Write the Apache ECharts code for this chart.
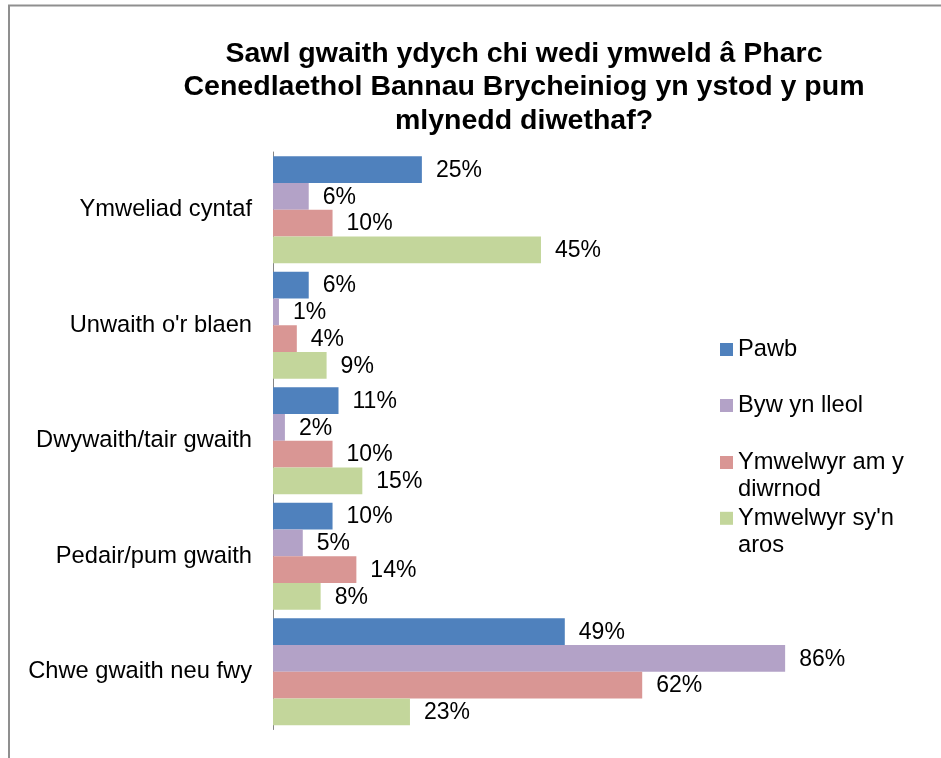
<!DOCTYPE html>
<html>
<head>
<meta charset="utf-8">
<script src="https://cdn.jsdelivr.net/npm/echarts@6/dist/echarts.min.js"></script>
<style>
html,body{margin:0;padding:0;background:#fff;}
#chart{width:941px;height:758px;}
</style>
</head>
<body>
<div id="chart"></div>
<script>
const titleText = 'Sawl gwaith ydych chi wedi ymweld â Pharc\nCenedlaethol Bannau Brycheiniog yn ystod y pum\nmlynedd diwethaf?';
const categories = ['Ymweliad cyntaf', "Unwaith o'r blaen", 'Dwywaith/tair gwaith', 'Pedair/pum gwaith', 'Chwe gwaith neu fwy'];
const seriesNames = ['Pawb', 'Byw yn lleol', 'Ymwelwyr am y diwrnod', "Ymwelwyr sy'n aros"];
const legendLabels = ['Pawb', 'Byw yn lleol', 'Ymwelwyr am y\ndiwrnod', "Ymwelwyr sy'n\naros"];
const pawb = [25, 6, 11, 10, 49];
const bywYnLleol = [6, 1, 2, 5, 86];
const ymwelwyrDiwrnod = [10, 4, 10, 14, 62];
const ymwelwyrAros = [45, 9, 15, 8, 23];
const colors = ['#4F81BD', '#B3A2C7', '#D99694', '#C3D69B'];

const FONT = "'Liberation Sans', Arial, sans-serif";
const allData = [pawb, bywYnLleol, ymwelwyrDiwrnod, ymwelwyrAros];

const legendCenters = [349.5, 405.5, 462.5, 518.3];
const legends = seriesNames.map((name, i) => {
  const multi = legendLabels[i].indexOf('\n') >= 0;
  // a leading empty line keeps the icon level with the first text line
  const shown = multi ? '\n' + legendLabels[i] : legendLabels[i];
  return {
    show: true,
    data: [{name: name, icon: 'rect'}],
    orient: 'vertical',
    left: 720,
    top: legendCenters[i] - (multi ? 40.5 : 13.5),
    padding: 0,
    itemWidth: 13,
    itemHeight: 13,
    itemGap: 0,
    selectedMode: false,
    formatter: () => shown,
    textStyle: {
      fontFamily: FONT,
      fontSize: 23.7,
      lineHeight: 27,
      color: '#000'
    }
  };
});

const option = {
  animation: false,
  backgroundColor: '#fff',
  color: colors,
  title: {
    text: titleText,
    left: 524,
    top: 37,
    textAlign: 'center',
    padding: 0,
    textStyle: {
      fontFamily: FONT,
      fontSize: 28.5,
      fontWeight: 'bold',
      lineHeight: 33.5,
      color: '#000'
    }
  },
  legend: legends,
  graphic: [{
    type: 'rect',
    silent: true,
    shape: {x: 9, y: 5.5, width: 1200, height: 1200},
    style: {fill: 'none', stroke: '#8f8f8f', lineWidth: 2}
  }],
  grid: {
    left: 273,
    top: 152,
    width: 595.5,
    height: 577.5,
    containLabel: false
  },
  xAxis: {
    type: 'value',
    min: 0,
    max: 100,
    show: false
  },
  yAxis: {
    type: 'category',
    data: categories,
    inverse: true,
    axisLine: {show: true, lineStyle: {color: '#868686', width: 1}},
    axisTick: {show: false},
    splitLine: {show: false},
    axisLabel: {
      margin: 21,
      fontFamily: FONT,
      fontSize: 23.7,
      color: '#000'
    }
  },
  series: seriesNames.map((name, i) => ({
    type: 'bar',
    name: name,
    data: allData[i],
    barGap: '0%',
    barCategoryGap: '7.4%',
    itemStyle: {color: colors[i]},
    label: {
      show: true,
      position: 'right',
      distance: 14,
      offset: [0, 1],
      formatter: '{c}%',
      fontFamily: FONT,
      fontSize: 23,
      color: '#000'
    }
  }))
};

const chart = echarts.init(document.getElementById('chart'), null, {renderer: 'canvas'});
chart.setOption(option);
</script>
</body>
</html>
